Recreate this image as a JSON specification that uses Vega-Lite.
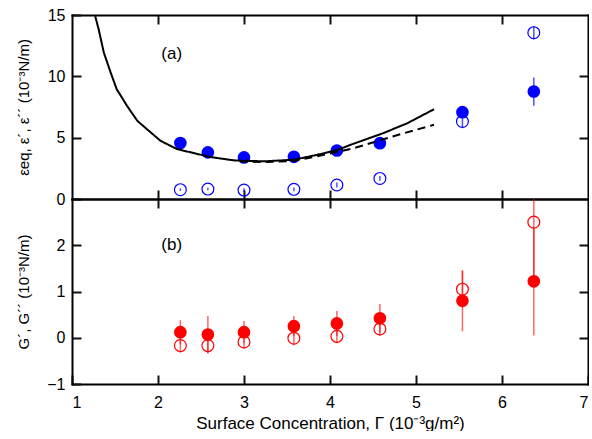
{
  "$schema": "https://vega.github.io/schema/vega-lite/v6.json",
  "padding": {"left": 15, "top": 7, "right": 0, "bottom": 0},
  "spacing": 0,
  "bounds": "flush",
  "config": {
    "font": "Liberation Sans",
    "view": {"stroke": null},
    "axis": {
      "grid": false, "zindex": 1,
      "domain": true, "domainColor": "black", "domainWidth": 2, "domainCap": "square",
      "ticks": true, "tickColor": "#111111", "tickWidth": 2, "tickSize": -9, "tickOpacity": 1,
      "labelFontSize": 16, "labelColor": "black", "labelFont": "Liberation Sans",
      "titleFontSize": 15, "titleFontWeight": "normal", "titleColor": "black", "titleFont": "Liberation Sans"
    }
  },
  "datasets": {
    "top": [
      {"x": 2.26, "ep": 4.56, "ep_lo": 4.46, "ep_hi": 4.66, "epp": 0.76, "epp_lo": 0.66, "epp_hi": 0.86},
      {"x": 2.58, "ep": 3.80, "ep_lo": 3.70, "ep_hi": 3.90, "epp": 0.81, "epp_lo": 0.71, "epp_hi": 0.91},
      {"x": 3.00, "ep": 3.39, "ep_lo": 3.29, "ep_hi": 3.49, "epp": 0.73, "epp_lo": 0.58, "epp_hi": 0.88},
      {"x": 3.58, "ep": 3.44, "ep_lo": 3.34, "ep_hi": 3.54, "epp": 0.79, "epp_lo": 0.64, "epp_hi": 0.94},
      {"x": 4.08, "ep": 3.95, "ep_lo": 3.85, "ep_hi": 4.05, "epp": 1.14, "epp_lo": 0.94, "epp_hi": 1.34},
      {"x": 4.58, "ep": 4.55, "ep_lo": 4.40, "ep_hi": 4.70, "epp": 1.68, "epp_lo": 1.48, "epp_hi": 1.88},
      {"x": 5.54, "ep": 7.08, "ep_lo": 6.78, "ep_hi": 7.38, "epp": 6.32, "epp_lo": 5.77, "epp_hi": 6.87},
      {"x": 6.37, "ep": 8.76, "ep_lo": 7.61, "ep_hi": 9.91, "epp": 13.56, "epp_lo": 13.01, "epp_hi": 14.11}
    ],
    "bottom": [
      {"x": 2.26, "gp": 0.12, "gp_lo": -0.14, "gp_hi": 0.38, "gpp": -0.17, "gpp_lo": -0.32, "gpp_hi": -0.02},
      {"x": 2.58, "gp": 0.07, "gp_lo": -0.33, "gp_hi": 0.47, "gpp": -0.17, "gpp_lo": -0.34, "gpp_hi": 0.0},
      {"x": 3.00, "gp": 0.12, "gp_lo": -0.12, "gp_hi": 0.36, "gpp": -0.09, "gpp_lo": -0.24, "gpp_hi": 0.06},
      {"x": 3.58, "gp": 0.25, "gp_lo": 0.03, "gp_hi": 0.47, "gpp": -0.01, "gpp_lo": -0.16, "gpp_hi": 0.14},
      {"x": 4.08, "gp": 0.31, "gp_lo": 0.04, "gp_hi": 0.58, "gpp": 0.03, "gpp_lo": -0.12, "gpp_hi": 0.18},
      {"x": 4.58, "gp": 0.42, "gp_lo": 0.11, "gp_hi": 0.73, "gpp": 0.19, "gpp_lo": 0.04, "gpp_hi": 0.34},
      {"x": 5.54, "gp": 0.80, "gp_lo": 0.14, "gp_hi": 1.46, "gpp": 1.05, "gpp_lo": 0.65, "gpp_hi": 1.45},
      {"x": 6.37, "gp": 1.22, "gp_lo": 0.05, "gp_hi": 2.39, "gpp": 2.50, "gpp_lo": 1.20, "gpp_hi": 3.80}
    ],
    "curves": [
      {"kind": "solid", "x": 1.27, "y": 14.9},
      {"kind": "solid", "x": 1.31, "y": 13.83},
      {"kind": "solid", "x": 1.37, "y": 11.94},
      {"kind": "solid", "x": 1.45, "y": 10.3},
      {"kind": "solid", "x": 1.52, "y": 8.95},
      {"kind": "solid", "x": 1.64, "y": 7.59},
      {"kind": "solid", "x": 1.76, "y": 6.37},
      {"kind": "solid", "x": 1.87, "y": 5.7},
      {"kind": "solid", "x": 2.03, "y": 4.74},
      {"kind": "solid", "x": 2.22, "y": 4.07},
      {"kind": "solid", "x": 2.61, "y": 3.42},
      {"kind": "solid", "x": 2.88, "y": 3.15},
      {"kind": "solid", "x": 3.23, "y": 3.07},
      {"kind": "solid", "x": 3.58, "y": 3.2},
      {"kind": "solid", "x": 3.85, "y": 3.6},
      {"kind": "solid", "x": 4.08, "y": 3.98},
      {"kind": "solid", "x": 4.24, "y": 4.42},
      {"kind": "solid", "x": 4.62, "y": 5.37},
      {"kind": "solid", "x": 4.90, "y": 6.18},
      {"kind": "solid", "x": 5.21, "y": 7.32},
      {"kind": "dashed", "x": 2.95, "y": 3.08},
      {"kind": "dashed", "x": 3.23, "y": 3.0},
      {"kind": "dashed", "x": 3.58, "y": 3.1},
      {"kind": "dashed", "x": 3.97, "y": 3.66},
      {"kind": "dashed", "x": 4.28, "y": 4.15},
      {"kind": "dashed", "x": 4.82, "y": 5.29},
      {"kind": "dashed", "x": 5.21, "y": 6.05}
    ],
    "labels_top": [{"x": 2.16, "y": 11.8, "label": "(a)"}],
    "labels_bottom": [{"x": 2.16, "y": 2.0, "label": "(b)"}]
  },
  "vconcat": [
    {
      "width": 516, "height": 184,
      "resolve": {"axis": {"x": "independent", "y": "independent"}},
      "layer": [
        {
          "data": {"name": "top"},
          "mark": {"type": "rule", "color": "#0000ff", "strokeWidth": 1.5, "opacity": 0.7},
          "encoding": {
            "x": {"field": "x", "type": "quantitative", "scale": {"domain": [1, 7], "nice": false},
                  "axis": {"orient": "bottom", "labels": false, "title": null, "values": [2, 3, 4, 5, 6], "tickSize": -9, "tickColor": "#111111"}},
            "y": {"field": "ep_lo", "type": "quantitative", "scale": {"domain": [0, 15], "nice": false},
                  "axis": {"orient": "left", "values": [0, 5, 10, 15], "tickSize": -9, "tickColor": "#111111", "labelPadding": 16, "title": "εeq, ε´, ε´´ (10⁻³N/m)", "titleX": -49, "titleBaseline": "middle", "titleAngle": -90}},
            "y2": {"field": "ep_hi"}
          }
        },
        {
          "data": {"name": "top"},
          "mark": {"type": "point", "filled": true, "color": "#0000ff", "size": 160, "opacity": 1, "shape": "circle"},
          "encoding": {
            "x": {"field": "x", "type": "quantitative", "scale": {"domain": [1, 7], "nice": false}, "axis": null},
            "y": {"field": "ep", "type": "quantitative", "scale": {"domain": [0, 15], "nice": false}, "axis": null}
          }
        },
        {
          "data": {"name": "top"},
          "mark": {"type": "rule", "color": "#0000ff", "strokeWidth": 1.5, "opacity": 0.7},
          "encoding": {
            "x": {"field": "x", "type": "quantitative", "scale": {"domain": [1, 7], "nice": false}, "axis": null},
            "y": {"field": "epp_lo", "type": "quantitative", "scale": {"domain": [0, 15], "nice": false}, "axis": null},
            "y2": {"field": "epp_hi"}
          }
        },
        {
          "data": {"name": "top"},
          "mark": {"type": "point", "filled": false, "color": "#0000ff", "size": 140, "strokeWidth": 1.2, "opacity": 1, "shape": "circle"},
          "encoding": {
            "x": {"field": "x", "type": "quantitative", "scale": {"domain": [1, 7], "nice": false}, "axis": null},
            "y": {"field": "epp", "type": "quantitative", "scale": {"domain": [0, 15], "nice": false}, "axis": null}
          }
        },
        {
          "data": {"name": "curves"},
          "mark": {"type": "line", "color": "black", "strokeWidth": 2, "clip": true},
          "encoding": {
            "x": {"field": "x", "type": "quantitative", "scale": {"domain": [1, 7], "nice": false}, "axis": null},
            "y": {"field": "y", "type": "quantitative", "scale": {"domain": [0, 15], "nice": false}, "axis": null},
            "detail": {"field": "kind"},
            "strokeDash": {"field": "kind", "type": "nominal", "legend": null,
                           "scale": {"domain": ["solid", "dashed"], "range": [[1, 0], [8, 5]]}}
          }
        },
        {
          "data": {"name": "labels_top"},
          "mark": {"type": "text", "fontSize": 17, "color": "black", "font": "Liberation Sans"},
          "encoding": {
            "x": {"field": "x", "type": "quantitative", "scale": {"domain": [1, 7], "nice": false},
                  "axis": {"orient": "top", "labels": false, "title": null, "values": [2, 3, 4, 5, 6], "tickSize": -9, "tickColor": "#111111"}},
            "y": {"field": "y", "type": "quantitative", "scale": {"domain": [0, 15], "nice": false},
                  "axis": {"orient": "right", "labels": false, "title": null, "values": [5, 10], "tickSize": -9, "tickColor": "#111111"}},
            "text": {"field": "label"}
          }
        }
      ]
    },
    {
      "width": 516, "height": 185,
      "resolve": {"axis": {"x": "independent", "y": "independent"}},
      "layer": [
        {
          "data": {"name": "bottom"},
          "mark": {"type": "rule", "color": "#ff0000", "strokeWidth": 1.5, "opacity": 0.6, "clip": true},
          "encoding": {
            "x": {"field": "x", "type": "quantitative", "scale": {"domain": [1, 7], "nice": false},
                  "axis": {"orient": "bottom", "values": [1, 2, 3, 4, 5, 6, 7], "format": "d", "tickSize": -9, "tickColor": "#111111", "labelPadding": 19, "title": "Surface Concentration, Γ (10⁻³g/m²)", "titleFontSize": 17, "titlePadding": 5}},
            "y": {"field": "gpp_lo", "type": "quantitative", "scale": {"domain": [-1, 3], "nice": false},
                  "axis": {"orient": "left", "values": [-1, 0, 1, 2], "format": "d", "tickSize": -9, "tickColor": "#111111", "labelPadding": 16, "title": "G´, G´´ (10⁻³N/m)", "titleX": -49, "titleBaseline": "middle", "titleAngle": -90}},
            "y2": {"field": "gpp_hi"}
          }
        },
        {
          "data": {"name": "bottom"},
          "mark": {"type": "rule", "color": "#ff0000", "strokeWidth": 1.5, "opacity": 0.6, "clip": true},
          "encoding": {
            "x": {"field": "x", "type": "quantitative", "scale": {"domain": [1, 7], "nice": false}, "axis": null},
            "y": {"field": "gp_lo", "type": "quantitative", "scale": {"domain": [-1, 3], "nice": false}, "axis": null},
            "y2": {"field": "gp_hi"}
          }
        },
        {
          "data": {"name": "bottom"},
          "mark": {"type": "point", "filled": true, "color": "#ff0000", "size": 160, "opacity": 1, "shape": "circle"},
          "encoding": {
            "x": {"field": "x", "type": "quantitative", "scale": {"domain": [1, 7], "nice": false}, "axis": null},
            "y": {"field": "gp", "type": "quantitative", "scale": {"domain": [-1, 3], "nice": false}, "axis": null}
          }
        },
        {
          "data": {"name": "bottom"},
          "mark": {"type": "point", "filled": false, "color": "#ff0000", "size": 140, "strokeWidth": 1.2, "opacity": 1, "shape": "circle"},
          "encoding": {
            "x": {"field": "x", "type": "quantitative", "scale": {"domain": [1, 7], "nice": false}, "axis": null},
            "y": {"field": "gpp", "type": "quantitative", "scale": {"domain": [-1, 3], "nice": false}, "axis": null}
          }
        },
        {
          "data": {"name": "labels_bottom"},
          "mark": {"type": "text", "fontSize": 17, "color": "black", "font": "Liberation Sans"},
          "encoding": {
            "x": {"field": "x", "type": "quantitative", "scale": {"domain": [1, 7], "nice": false},
                  "axis": {"orient": "top", "labels": false, "title": null, "values": [2, 3, 4, 5, 6], "tickSize": -9, "tickColor": "#111111"}},
            "y": {"field": "y", "type": "quantitative", "scale": {"domain": [-1, 3], "nice": false},
                  "axis": {"orient": "right", "labels": false, "title": null, "values": [0, 1, 2], "tickSize": -9, "tickColor": "#111111"}},
            "text": {"field": "label"}
          }
        }
      ]
    }
  ]
}
